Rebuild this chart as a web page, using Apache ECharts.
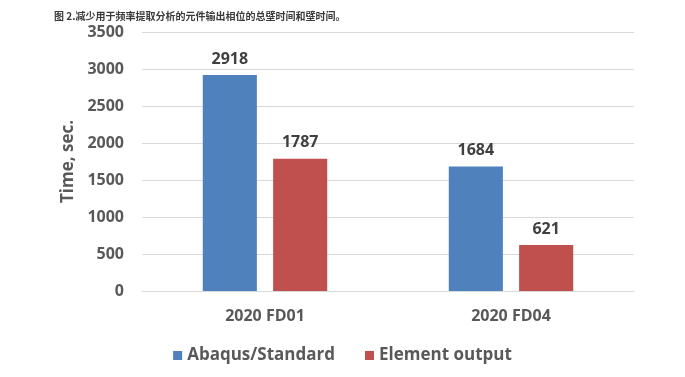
<!DOCTYPE html>
<html>
<head>
<meta charset="utf-8">
<script src="https://cdn.jsdelivr.net/npm/echarts@6/dist/echarts.min.js"></script>
<style>
  html, body { margin: 0; padding: 0; background: #fff; }
  #chart { width: 685px; height: 377px; }
</style>
</head>
<body>
<div id="chart"></div>
<script>
// 数据
var categories = ['2020 FD01', '2020 FD04'];
var seriesNames = ['Abaqus/Standard', 'Element output'];
var abaqusValues = [2918, 1684];
var elementValues = [1787, 621];
var yTicks = [0, 500, 1000, 1500, 2000, 2500, 3000, 3500];

var fontFamily = '"Open Sans", "Noto Sans", sans-serif';

var dom = document.getElementById('chart');
var myChart = echarts.init(dom);
var option = {
  animation: false,
  title: {
    text: '图 2.减少用于频率提取分析的元件输出相位的总壁时间和壁时间。',
    left: 49,
    top: 6,
    textStyle: {
      fontFamily: '"Noto Sans CJK SC", sans-serif',
      fontSize: 10,
      fontWeight: 'bold',
      color: '#3a3a3a'
    }
  },
  legend: {
    data: seriesNames,
    bottom: 8,
    left: 'center',
    itemWidth: 9,
    itemHeight: 9,
    itemGap: 30,
    icon: 'rect',
    textStyle: {
      fontFamily: fontFamily,
      fontSize: 17,
      fontWeight: 'bold',
      color: '#595959'
    }
  },
  grid: {
    left: 142,
    right: 51,
    top: 32,
    bottom: 86
  },
  xAxis: {
    type: 'category',
    data: categories,
    axisTick: { show: false },
    axisLine: { lineStyle: { color: '#d9d9d9', width: 1 } },
    axisLabel: {
      margin: 17,
      fontFamily: fontFamily,
      fontSize: 16,
      fontWeight: 'bold',
      color: '#595959'
    }
  },
  yAxis: {
    type: 'value',
    min: yTicks[0],
    max: yTicks[yTicks.length - 1],
    interval: yTicks[1] - yTicks[0],
    name: 'Time, sec.',
    nameLocation: 'middle',
    nameGap: 64,
    nameRotate: 90,
    nameTextStyle: {
      fontFamily: fontFamily,
      fontSize: 17,
      fontWeight: 'bold',
      color: '#595959'
    },
    axisLine: { show: false },
    axisTick: { show: false },
    splitLine: { lineStyle: { color: '#d9d9d9', width: 1 } },
    axisLabel: {
      margin: 18,
      formatter: function (v) { return String(v); },
      fontFamily: fontFamily,
      fontSize: 16,
      fontWeight: 'bold',
      color: '#595959'
    }
  },
  series: [
    {
      name: seriesNames[0],
      type: 'bar',
      data: abaqusValues,
      barWidth: '22%',
      barGap: '30%',
      itemStyle: { color: '#4F81BD' },
      label: {
        show: true,
        position: 'top',
        distance: 8,
        fontFamily: fontFamily,
        fontSize: 16,
        fontWeight: 'bold',
        color: '#404040'
      }
    },
    {
      name: seriesNames[1],
      type: 'bar',
      data: elementValues,
      barWidth: '22%',
      itemStyle: { color: '#C0504D' },
      label: {
        show: true,
        position: 'top',
        distance: 8,
        fontFamily: fontFamily,
        fontSize: 16,
        fontWeight: 'bold',
        color: '#404040'
      }
    }
  ]
};
myChart.setOption(option, true);
</script>
</body>
</html>
